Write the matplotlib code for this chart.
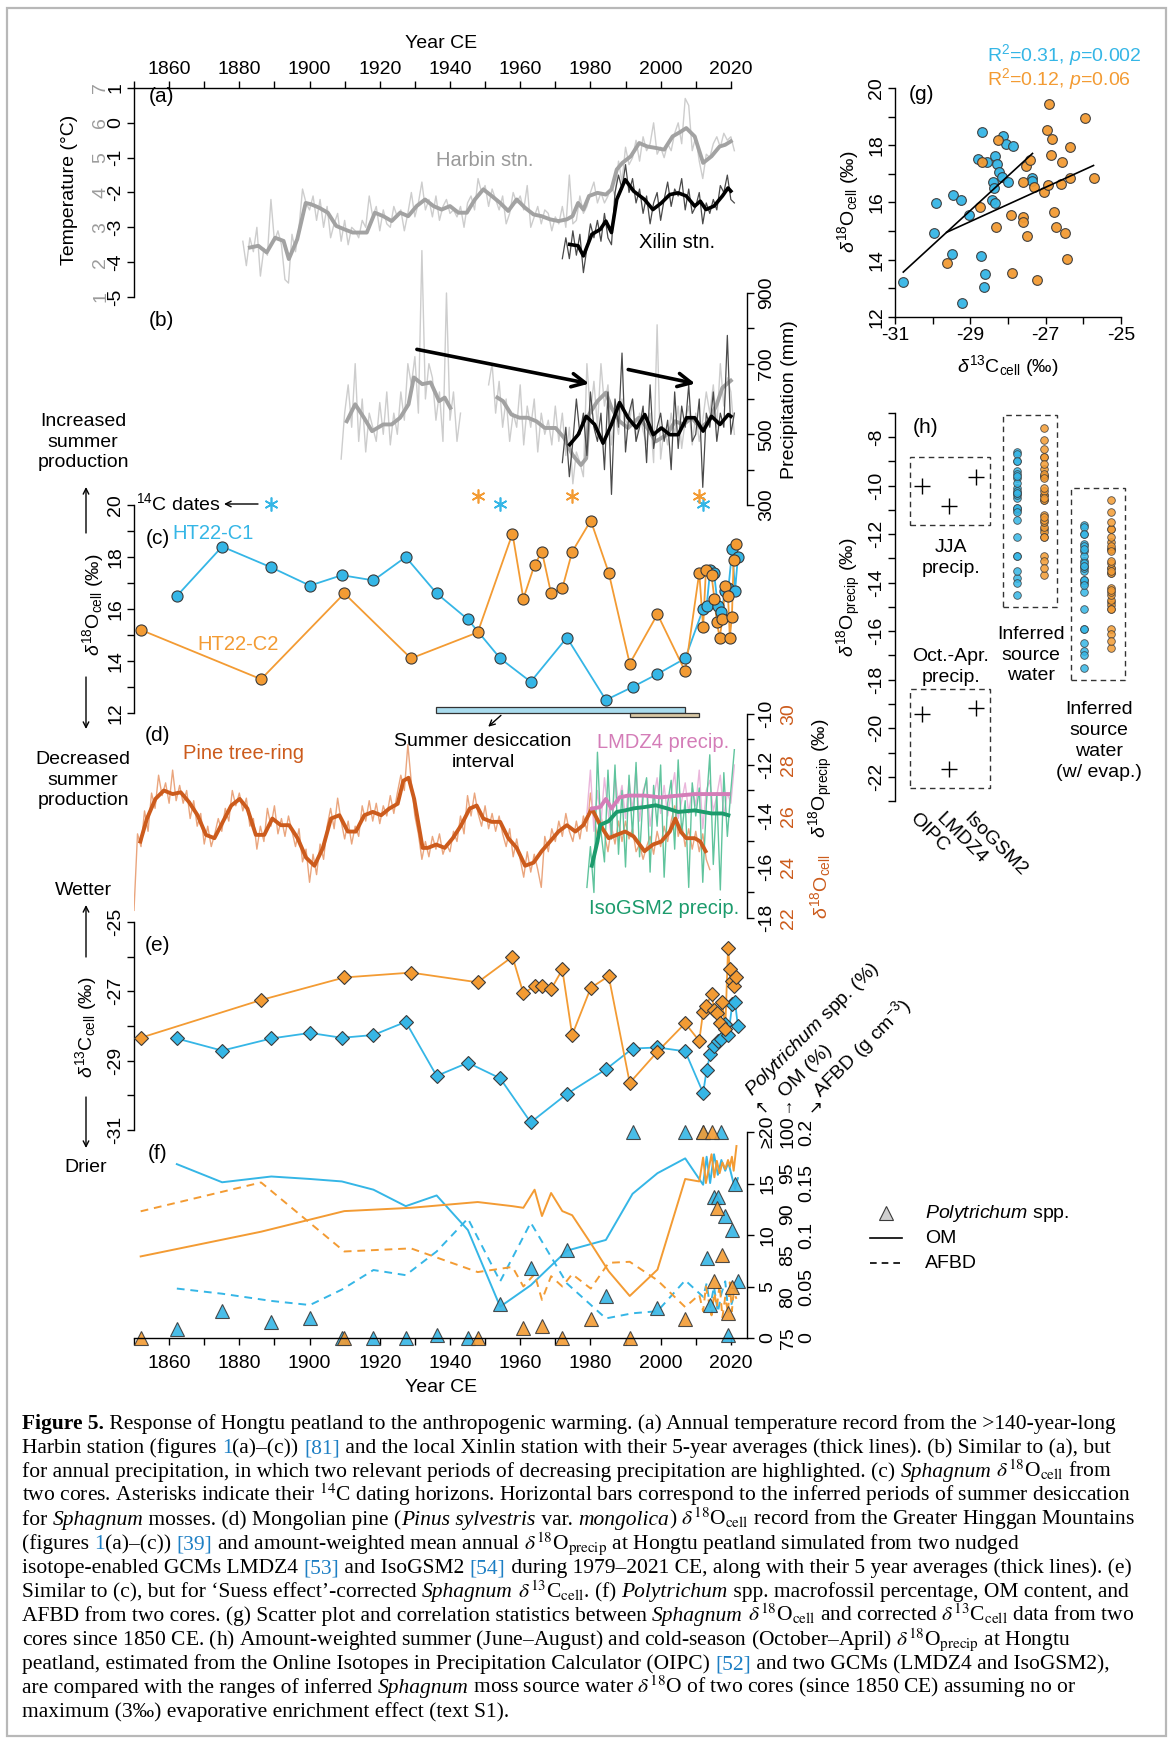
import numpy as np
import matplotlib
matplotlib.use('Agg')
import matplotlib.pyplot as plt
import matplotlib.transforms as mtransforms
from matplotlib.patches import Rectangle

plt.rcParams['font.family'] = ['Liberation Sans', 'DejaVu Sans']
plt.rcParams['mathtext.fontset'] = 'custom'
plt.rcParams['mathtext.rm'] = 'Liberation Sans'
plt.rcParams['mathtext.it'] = 'Liberation Sans:italic'
plt.rcParams['mathtext.bf'] = 'Liberation Sans:bold'

## ---------------- data ----------------
# (a) annual temperature, Harbin (deg C, grey scale 1..7) 1881-2021
harbin_t = [2.6, 1.9, 2.7, 2.3, 3.0, 1.6, 2.4, 2.2, 3.8, 2.6,
            2.9, 2.5, 1.5, 1.4, 2.8, 2.3, 3.0, 4.1, 3.7, 3.5,
            3.9, 3.2, 3.8, 3.0, 3.6, 2.7, 3.1, 3.4, 2.6, 3.2,
            2.5, 3.0, 2.9, 2.7, 3.2, 3.0, 3.9, 3.3, 3.6, 2.9,
            3.5, 3.1, 3.0, 3.6, 3.3, 3.5, 2.9, 3.4, 4.0, 3.3,
            3.7, 4.3, 3.5, 3.8, 3.3, 3.9, 3.2, 3.6, 3.8, 3.4,
            3.5, 3.3, 3.6, 3.0, 3.7, 3.9, 3.5, 4.4, 4.0, 4.2,
            3.6, 4.1, 3.8, 3.5, 3.9, 3.1, 3.4, 4.0, 3.7, 3.9,
            3.5, 4.2, 3.0, 3.3, 3.6, 3.1, 3.5, 3.4, 2.9, 3.3,
            3.1, 3.6, 3.0, 4.5, 3.1, 3.2, 3.9, 3.4, 3.6, 4.0,
            4.3, 3.7, 4.0, 3.7, 3.9, 4.2, 3.9, 4.9, 4.3, 5.3,
            4.8, 5.0, 5.5, 4.9, 5.6, 5.2, 5.4, 6.0, 5.1, 5.3,
            5.0, 5.4, 5.2, 5.7, 6.0, 5.4, 6.7, 6.5, 5.2, 5.6,
            4.9, 4.4, 5.1, 5.0, 5.4, 5.6, 5.3, 5.7, 5.5, 5.6,
            5.2]
harbin_t_years = np.arange(1881, 1881 + len(harbin_t))
harbin_t5_years = [1883, 1885.4, 1887.8, 1890.2, 1892.6, 1894.1, 1896.5, 1898.9, 1900.5, 1902.8,
                   1905.2, 1907.6, 1910, 1912.3, 1916.3, 1918.6, 1921, 1923.4, 1925.8, 1928.1,
                   1930.5, 1932.9, 1935.3, 1937.6, 1940, 1942.4, 1944.8, 1947.1, 1949.5, 1951.9,
                   1954.3, 1956.6, 1959, 1961.4, 1963.8, 1966.1, 1968.5, 1970.9, 1973.3, 1974.9,
                   1976.5, 1978, 1979.6, 1982, 1984.4, 1986, 1987.5, 1989.1, 1991.5, 1993.9,
                   1996.2, 1998.6, 2001, 2003.4, 2005.8, 2007.3, 2009.7, 2012.1, 2014.5, 2016.8,
                   2018.4, 2020]
harbin_t5 = [2.42, 2.47, 2.28, 2.70, 2.61, 2.09, 2.66, 3.70, 3.66, 3.56,
             3.42, 3.04, 2.94, 2.85, 2.85, 3.42, 3.32, 3.18, 3.42, 3.32,
             3.61, 3.80, 3.61, 3.51, 3.61, 3.42, 3.42, 3.80, 4.09, 3.90,
             3.70, 3.47, 3.80, 3.56, 3.37, 3.32, 3.23, 3.18, 3.23, 3.32,
             3.70, 3.51, 3.90, 3.99, 3.94, 4.09, 4.66, 4.85, 5.04, 5.42,
             5.32, 5.28, 5.23, 5.61, 5.75, 5.85, 5.61, 4.85, 5.04, 5.32,
             5.37, 5.47]
# Xilin temperature (deg C) 1972-2021
xilin_t = [-3.9, -3.3, -3.9, -3.1, -3.8, -3.2, -4.3, -3.6, -2.9, -3.3,
           -2.8, -3.4, -2.6, -3.3, -3.5, -2.0, -1.5, -1.9, -1.2, -2.0,
           -1.6, -2.3, -1.9, -2.6, -2.1, -2.9, -2.3, -2.0, -2.8, -2.2,
           -1.7, -2.4, -1.9, -2.1, -1.6, -2.5, -1.9, -2.6, -2.4, -2.0,
           -2.9, -2.3, -2.6, -2.2, -2.5, -1.8, -2.0, -1.5, -2.2, -2.3]
xilin_years = np.arange(1972, 1972 + len(xilin_t))
xilin_t5_years = [1974.1, 1976.5, 1978, 1980.4, 1982.8, 1984.4, 1986, 1987.5, 1989.9, 1992.3,
                  1995.4, 1997.8, 2000.2, 2002.6, 2005, 2007.3, 2009.7, 2011.3, 2012.9, 2015.2,
                  2017.6, 2019.2, 2020]
xilin_t5 = [-3.49, -3.53, -3.82, -3.20, -3.06, -2.82, -3.15, -2.20, -1.63, -1.96,
            -2.20, -2.49, -2.30, -2.06, -2.01, -2.10, -2.39, -2.25, -2.49, -2.39,
            -2.10, -1.87, -1.96]

# (b) annual precipitation (mm); Harbin 1909-2021 with gap 1944-1950
nan = np.nan
harbin_p = [430, 560, 640, 520, 700, 480, 600, 450, 560, 520,
            480, 590, 500, 620, 470, 560, 500, 620, 540, 700,
            640, 720, 560, 1020, 600, 700, 660, 540, 620, 480,
            900, 540, 620, 480, 560,
            nan, nan, nan, nan, nan, nan, nan,
            640, 700, 560, 650, 520, 600, 480, 560, 520, 640,
            470, 580, 520, 600, 450, 560, 500, 540, 470, 580,
            480, 560, 440, 520, 360, 450, 420, 380, 700, 560,
            650, 520, 700, 580, 640, 470, 560, 500, 600, 540,
            520, 600, 480, 560, 510, 470, 560, 420, 810, 430,
            520, 470, 560, 500, 580, 460, 540, 580, 470, 560,
            480, 540, 620, 560, 640, 520, 700, 580, 660, 620,
            500]
harbin_p_years = np.arange(1909, 1909 + len(harbin_p))
harbin_p5_years = [1910.6, 1913, 1915.5, 1917.8, 1921, 1923.4, 1925.8, 1928.2, 1929.7, 1932.1,
                   1934.5, 1936.9, 1938.5, 1940.1, nan, 1953.5, 1955.1, 1957.5, 1959.8, 1962.2,
                   1964.6, 1967, 1970.1, 1972.5, 1974.9, 1977.3, 1978.8, 1979.6, 1982, 1984.4,
                   1986, 1988.3, 1990.7, 1993.8, 1996.2, 1998.6, 2001.8, 2004.1, 2006.5, 2008.9,
                   2011.3, 2013.7, 2016, 2017.6, 2020]
harbin_p5 = [537, 585, 547, 509, 528, 528, 547, 585, 661, 642,
             647, 594, 604, 575, nan, 604, 594, 556, 547, 547,
             537, 518, 518, 490, 442, 413, 432, 556, 594, 618,
             575, 537, 518, 547, 518, 480, 499, 537, 528, 547,
             518, 537, 585, 632, 652]
xilin_p = [420, 520, 380, 480, 600, 500, 560, 440, 620, 520,
           480, 560, 400, 620, 330, 600, 520, 730, 450, 560,
           600, 480, 520, 580, 420, 640, 460, 520, 560, 480,
           540, 400, 620, 460, 580, 520, 640, 480, 500, 600,
           350, 560, 520, 620, 480, 560, 520, 780, 500, 560]
xilin_p5_years = [1974.1, 1976.5, 1978.8, 1981.2, 1983.6, 1986, 1988.3, 1990.7, 1993.1, 1995.5,
                  1997.9, 2000.2, 2002.6, 2005, 2007.4, 2009.7, 2012.1, 2014.5, 2016.9, 2019.3, 2020]
xilin_p5 = [471, 499, 551, 528, 475, 528, 590, 547, 518, 556,
            499, 518, 499, 499, 547, 547, 509, 551, 528, 556, 551]

# (c), (e), (f) core HT22-C1 (blue)
c1_years = [1862.2, 1875.1, 1889.1, 1900.1, 1909.2, 1918.2, 1927.4, 1936.2, 1945.1, 1954.3,
            1963.0, 1973.3, 1984.4, 1992.0, 1999.1, 2007.0, 2012.1, 2013.1, 2014.1, 2015.2,
            2016.3, 2017.3, 2018.4, 2019.3, 2020.4, 2021.2, 2022.0]
c1_d18o = [16.5, 18.4, 17.6, 16.9, 17.3, 17.1, 18.0, 16.6, 15.6, 14.1,
           13.2, 14.9, 12.5, 13.0, 13.5, 14.1, 16.0, 16.1, 17.5, 17.4,
           16.1, 15.9, 16.7, 16.8, 18.3, 16.7, 18.0]
c1_d13c = [-28.36, -28.71, -28.36, -28.20, -28.34, -28.26, -27.88, -29.44, -29.06, -29.51,
           -30.78, -29.96, -29.25, -28.65, -28.62, -28.73, -29.93, -29.28, -28.82, -28.59,
           -28.42, -28.37, -27.94, -28.27, -27.36, -27.31, -28.00]
c1_om = [96.1, 93.9, 94.6, 94.3, 94.0, 93.0, 91.0, 92.3, 88.1, 78.8,
         81.4, 85.6, 86.9, 92.5, 95.0, 96.8, 93.6, 97.0, 93.8, 97.3,
         94.8, 96.6, 95.3, 96.3, 94.4, 93.1, 94.4]
c1_afbd = [0.048, 0.043, 0.036, 0.032, 0.047, 0.066, 0.061, 0.084, 0.116, 0.055,
           0.112, 0.053, 0.019, 0.024, 0.026, 0.056, 0.040, 0.053, 0.030, 0.050,
           0.025, 0.043, 0.055, 0.025, 0.035, 0.048, 0.042]
c1_poly = [0.9, 2.6, 1.6, 1.9, 0, 0, 0, 0.3, 0, 3.3,
           6.8, 8.5, 4.1, 25, 2.9, 25, 25, 7.8, 3.2, 13.7,
           13.7, 25, 11.8, 0.3, 10.5, 15.0, 5.5]
c1_dates = [1889.1, 1954.3, 2012.1]

# core HT22-C2 (orange)
c2_years = [1851.9, 1886.2, 1909.9, 1928.9, 1947.9, 1957.8, 1960.9, 1964.1, 1966.2, 1968.8,
            1972.0, 1974.8, 1980.1, 1985.2, 1991.2, 1999.1, 2007.0, 2011.0, 2012.1, 2012.9,
            2014.5, 2015.3, 2016.0, 2016.8, 2017.6, 2018.4, 2019.2, 2019.7, 2020.3, 2020.8,
            2021.6]
c2_d18o = [15.2, 13.3, 16.6, 14.1, 15.1, 18.9, 16.4, 17.7, 18.2, 16.6,
           16.8, 18.2, 19.4, 17.4, 13.9, 15.8, 13.6, 17.4, 15.3, 17.5,
           17.3, 16.4, 15.5, 14.9, 15.6, 16.9, 16.5, 14.9, 15.7, 17.9,
           18.5]
c2_d13c = [-28.34, -27.25, -26.60, -26.46, -26.74, -26.00, -27.06, -26.85, -26.85, -26.94,
           -26.37, -28.26, -26.90, -26.56, -29.64, -28.74, -27.92, -28.43, -27.59, -27.43,
           -27.09, -27.54, -27.62, -27.92, -27.30, -28.10, -25.75, -26.35, -26.70, -26.86,
           -26.60]
c2_om = [84.9, 87.9, 90.4, 90.8, 91.5, 91.0, 90.8, 93.0, 89.8, 92.6,
         90.4, 89.9, 86.5, 83.1, 80.1, 83.3, 94.3, 94.0, 96.9, 93.8,
         97.3, 94.5, 96.5, 95.0, 96.3, 95.5, 96.6, 95.8, 97.0, 95.3,
         98.3]
c2_afbd = [0.123, 0.151, 0.084, 0.087, 0.064, 0.069, 0.050, 0.062, 0.037, 0.060,
           0.050, 0.062, 0.048, 0.073, 0.074, 0.056, 0.030, 0.042, 0.026, 0.050,
           0.022, 0.044, 0.030, 0.052, 0.020, 0.040, 0.024, 0.054, 0.026, 0.045,
           0.038]
c2_poly = [0, nan, 0, nan, 0, nan, 1.0, nan, 1.2, nan,
           0, nan, 1.8, nan, 0, nan, 1.8, nan, 25, nan,
           25, 5.5, 12.6, nan, 8.1, nan, 2.4, nan, 5.0, nan,
           nan]
c2_dates = [1947.9, 1974.8, 2011.0]
desic_c1 = (1935.9, 2007.0)
desic_c2 = (1991.2, 2010.9)

# (d) pine tree-ring d18O cellulose 1850-2014
pine = [22.3, 25.3, 24.8, 26.2, 25.4, 26.9, 26.3, 27.6, 26.8, 27.3,
        26.5, 27.8, 26.6, 27.2, 26.5, 27.0, 25.9, 26.6, 25.6, 26.1,
        24.9, 25.6, 24.8, 25.3, 25.9, 25.4, 26.3, 25.8, 27.0, 26.4,
        26.9, 26.2, 26.7, 25.6, 25.9, 24.7, 25.6, 25.0, 26.3, 25.6,
        26.4, 25.3, 25.9, 25.2, 26.0, 25.4, 24.8, 25.5, 24.2, 24.7,
        23.4, 24.5, 23.7, 24.9, 24.3, 25.6, 26.3, 25.5, 26.7, 25.8,
        25.1, 25.8, 24.9, 25.6, 25.2, 26.4, 25.8, 26.6, 25.8, 26.5,
        25.7, 26.4, 26.0, 26.8, 26.1, 26.9, 27.6, 27.0, 28.8, 27.3,
        26.0, 25.3, 24.3, 25.0, 24.4, 25.2, 24.7, 25.3, 24.5, 24.9,
        24.6, 25.4, 25.0, 26.0, 25.3, 26.8, 26.0, 26.9, 26.1, 25.6,
        26.4, 25.5, 26.1, 25.4, 26.0, 25.3, 24.8, 25.5, 24.4, 25.1,
        24.3, 23.6, 24.6, 23.8, 24.5, 23.9, 23.2, 25.2, 24.6, 25.5,
        25.0, 25.8, 25.2, 26.1, 25.4, 25.0, 25.8, 25.1, 26.0, 25.4,
        26.9, 25.9, 25.2, 26.0, 25.3, 24.6, 25.6, 24.9, 25.8, 25.0,
        25.8, 25.1, 25.5, 24.6, 24.9, 24.3, 24.8, 25.2, 24.5, 25.4,
        24.8, 25.6, 25.0, 25.8, 26.4, 25.2, 25.7, 24.8, 25.5, 24.7,
        25.4, 24.6, 25.3, 24.3, 23.9]
pine_years = np.arange(1850, 1850 + len(pine))
pine5_years = [1851.8, 1853.7, 1856.1, 1858.5, 1861, 1863.3, 1865.7, 1868.1, 1870.5, 1872.9,
               1875.3, 1877.7, 1880.1, 1882.3, 1884.7, 1887.1, 1889.4, 1891.8, 1894.2, 1896.6,
               1899, 1901.4, 1903.8, 1906.1, 1908.5, 1910.9, 1913.2, 1915.6, 1918, 1920.4,
               1922.7, 1925.1, 1926.7, 1928.2, 1929.8, 1932.2, 1933.7, 1936.1, 1938.5, 1940.8,
               1943.2, 1945.6, 1947.6, 1949.5, 1951.9, 1954.3, 1956.6, 1959, 1961.4, 1963.8,
               1966.1, 1968.5, 1970.9, 1973.3, 1975.7, 1978, 1980.4, 1982.8, 1985.2, 1987.5,
               1989.9, 1992.3, 1995.4, 1997.8, 2000.2, 2002.6, 2004.2, 2005.7, 2007.3, 2009.7,
               2011.3, 2012.8]
pine5 = [25.0, 25.9, 26.67, 27.0, 26.86, 26.93, 26.54, 26.03, 25.26, 25.13,
         25.77, 26.41, 26.67, 26.29, 25.26, 25.26, 25.9, 25.64, 25.64, 25.13,
         24.37, 24.05, 24.75, 25.9, 26.03, 25.39, 25.39, 26.03, 26.16, 26.03,
         26.29, 26.48, 27.38, 27.5, 26.67, 24.75, 24.75, 24.88, 24.75, 25.13,
         25.64, 26.29, 26.41, 25.9, 25.77, 25.77, 25.13, 24.75, 24.05, 24.17,
         24.62, 25.0, 25.39, 25.64, 25.39, 25.64, 26.29, 25.64, 25.13, 25.26,
         25.39, 25.2, 24.62, 24.88, 25.0, 25.39, 25.9, 25.39, 25.13, 25.13,
         25.0, 24.62]
# simulated d18O precip 1979-2021
lmdz = [-13.9, -12.2, -14.6, -13.0, -14.3, -12.5, -13.8, -14.9, -12.4, -13.5,
        -12.8, -14.1, -12.6, -13.8, -12.1, -14.2, -13.0, -12.6, -14.4, -13.3,
        -12.5, -13.9, -12.8, -14.0, -13.1, -12.3, -14.1, -13.4, -12.7, -13.9,
        -12.9, -13.6, -12.2, -14.5, -13.0, -12.6, -13.8, -13.2, -12.4, -14.0,
        -13.1, -13.5, -12.0]
isogsm = [-16.8, -15.2, -17.0, -11.5, -14.6, -15.8, -12.2, -14.9, -12.0, -15.5,
          -13.0, -16.0, -12.4, -14.8, -11.9, -15.6, -13.2, -12.5, -16.2, -12.8,
          -14.4, -12.0, -16.4, -13.5, -12.6, -15.3, -11.8, -14.7, -13.4, -16.8,
          -12.7, -14.0, -12.9, -16.6, -13.6, -11.6, -15.9, -13.1, -16.9, -12.3,
          -14.8, -13.0, -11.4]
gcm_years = np.arange(1979, 1979 + len(lmdz))
lmdz5_years = [1980.4, 1982.8, 1984.4, 1986, 1988.3, 1990.7, 1995.4, 2000, 2005, 2009.7, 2014.5, 2019.3]
lmdz5 = [-13.71, -13.65, -13.33, -13.71, -13.27, -13.2, -13.2, -13.27, -13.2, -13.14, -13.14, -13.14]
iso5_years = [1980.4, 1982, 1982.8, 1985.2, 1987.5, 1989.9, 1992.3, 1995.4, 1998.6, 2001.8,
              2005, 2009.7, 2014.5, 2017.6, 2019.3]
iso5 = [-15.95, -15.0, -14.35, -14.2, -13.84, -13.78, -13.7, -13.65, -13.58, -13.7,
        -13.84, -13.78, -13.9, -13.9, -13.97]

# (g) scatter d13C vs d18O
g_c1_x = [-30.78, -29.96, -29.91, -29.45, -29.26, -29.50, -29.23, -29.03, -28.79, -28.70,
          -28.57, -28.73, -28.61, -28.65, -28.41, -28.37, -28.42, -28.34, -28.35, -28.30,
          -28.23, -28.17, -28.14, -28.04, -27.99, -27.86, -27.37, -27.35]
g_c1_y = [13.23, 14.92, 15.99, 16.26, 16.09, 14.20, 12.49, 15.56, 17.51, 18.45,
          17.40, 14.13, 13.50, 13.05, 16.70, 16.50, 16.09, 15.97, 17.61, 17.35,
          17.08, 16.88, 18.33, 18.05, 16.73, 17.96, 16.85, 16.75]
g_c2_x = [-29.63, -28.74, -28.70, -28.32, -28.27, -27.92, -27.90, -27.61, -27.61, -27.59,
          -27.52, -27.50, -27.42, -27.30, -27.24, -27.04, -26.96, -26.93, -26.90, -26.87,
          -26.84, -26.77, -26.73, -26.59, -26.57, -26.50, -26.44, -26.35, -26.35, -25.96,
          -25.73]
g_c2_y = [13.87, 15.83, 17.40, 15.15, 18.19, 15.56, 13.54, 16.73, 15.48, 15.33,
          17.29, 14.84, 17.47, 16.53, 13.31, 16.37, 18.54, 16.61, 19.45, 17.67,
          18.21, 15.68, 15.15, 16.65, 17.43, 14.94, 14.04, 17.93, 16.85, 18.95,
          16.85]

# (h) precipitation d18O from OIPC / LMDZ4 / IsoGSM2
h_models = ['OIPC', 'LMDZ4', 'IsoGSM2']
h_jja = [-10.0, -10.82, -9.62]
h_octapr = [-19.4, -21.68, -19.17]
cell_offset = 27.0      # source water = d18O_cell - 27
evap_offset = 3.0       # maximum evaporative enrichment

## ---------------- styling ----------------
BLUE = '#35b6e6'
ORANGE = '#f39b33'
GRAY_THICK = '#a2a2a2'
GRAY_THIN = '#cdcdcd'
DARK_THIN = '#4a4a4a'
PINE = '#cc5b1c'
PINE_THIN = '#eaa57d'
PINK = '#d47db8'
PINK_THIN = '#eab6db'
GREEN = '#1c9b6c'
GREEN_THIN = '#60c49d'
EDGE = '#3a3a3a'
FS = 14

W, H = 1173, 1742
fig = plt.figure(figsize=(W / 100, H / 100), dpi=100)
fig.patch.set_facecolor('white')


def add_ax(x0, y0, x1, y1):
    return fig.add_axes([x0 / W, 1 - y1 / H, (x1 - x0) / W, (y1 - y0) / H])


def setup(ax, sides):
    for s in ('left', 'right', 'top', 'bottom'):
        ax.spines[s].set_visible(s in sides)
        ax.spines[s].set_linewidth(1.0)
    ax.patch.set_visible(False)
    ax.tick_params(which='both', direction='out', length=5, width=1, labelsize=FS, pad=2)
    if 'top' not in sides and 'bottom' not in sides:
        ax.tick_params(axis='x', which='both', bottom=False, top=False,
                       labelbottom=False, labeltop=False)
    if 'right' in sides:
        ax.yaxis.tick_right()
        ax.tick_params(axis='y', which='both', pad=3)
    if 'top' in sides:
        ax.xaxis.tick_top()


def set_yt(ax, lo, hi, lab_lo, lab_step, step=1):
    lab = np.arange(lab_lo, hi + 1e-9, lab_step)
    allt = np.arange(lo, hi + 1e-9, step)
    ax.set_yticks(lab, labels=['%g' % v for v in lab])
    ax.set_yticks([t for t in allt if not np.any(np.isclose(t, lab))], minor=True)
    ax.tick_params(axis='y', labelrotation=90)
    plt.setp(ax.get_yticklabels(), va='center')


def set_years(ax):
    ax.set_xlim(1850, 2024.6)
    ax.set_xticks(np.arange(1860, 2021, 20), labels=[str(y) for y in range(1860, 2021, 20)])
    ax.set_xticks(np.arange(1850, 2021, 20), minor=True)


X0, X1 = 134, 747
XLIM = (1850, 2024.6)

# ---- (a) temperature
ax_a = add_ax(X0, 88, X1, 297)
setup(ax_a, ('left', 'top'))
set_years(ax_a)
ax_a.tick_params(axis='x', which='both', pad=2)
ax_a.spines['top'].set_bounds(1850, 2020)
ax_a.set_ylim(-5, 1)
set_yt(ax_a, -5, 1, -5, 1)
ax_a.plot(harbin_t_years, np.array(harbin_t) - 6, color=GRAY_THIN, lw=1.0)
ax_a.plot(harbin_t5_years, np.array(harbin_t5) - 6, color=GRAY_THICK, lw=2.8)
ax_a.plot(xilin_years, xilin_t, color=DARK_THIN, lw=0.9)
ax_a.plot(xilin_t5_years, xilin_t5, color='black', lw=2.6)
blend_a = mtransforms.blended_transform_factory(ax_a.transAxes, ax_a.transData)
for v in range(-5, 2):
    ax_a.text((101 - X0) / (X1 - X0), v, str(v + 6), transform=blend_a, rotation=90,
              ha='center', va='center', fontsize=FS, color='#9c9c9c')

# ---- (b) precipitation
ax_b = add_ax(X0, 293, X1, 505)
setup(ax_b, ('right',))
ax_b.set_xlim(XLIM)
ax_b.set_ylim(300, 900)
set_yt(ax_b, 300, 900, 300, 200, step=100)
ax_b.plot(harbin_p_years, harbin_p, color=GRAY_THIN, lw=1.0, clip_on=False)
ax_b.plot(harbin_p5_years, harbin_p5, color=GRAY_THICK, lw=2.8)
ax_b.plot(xilin_years, xilin_p, color=DARK_THIN, lw=0.9, clip_on=False)
ax_b.plot(xilin_p5_years, xilin_p5, color='black', lw=2.6)
for (xa, ya), (xb, yb) in [((1929.8, 742), (1980.4, 642)), ((1990.0, 685), (2010.6, 642))]:
    ax_b.annotate('', xy=(xb, yb), xytext=(xa, ya),
                  arrowprops=dict(arrowstyle='->', lw=2.6, color='black', mutation_scale=24))

# ---- (c) d18O cellulose
ax_c = add_ax(X0, 505, X1, 713)
setup(ax_c, ('left',))
ax_c.set_xlim(XLIM)
ax_c.set_ylim(12, 20)
set_yt(ax_c, 12, 20, 12, 2)
ax_c.plot(c1_years, c1_d18o, color=BLUE, lw=1.3, zorder=2)
ax_c.plot(c2_years, c2_d18o, color=ORANGE, lw=1.3, zorder=2)
ax_c.plot(c1_years, c1_d18o, 'o', ms=8, mfc=BLUE, mec=EDGE, mew=0.8, zorder=3)
ax_c.plot(c2_years, c2_d18o, 'o', ms=8, mfc=ORANGE, mec=EDGE, mew=0.8, zorder=3)
ax_c.plot(c1_dates, [20.05] * len(c1_dates), ls='none', marker=(6, 2, 0), ms=10,
          mec=BLUE, mew=1.2, clip_on=False)
ax_c.plot(c2_dates, [20.35] * len(c2_dates), ls='none', marker=(6, 2, 0), ms=10,
          mec=ORANGE, mew=1.2, clip_on=False)
ax_c.add_patch(Rectangle((desic_c1[0], 12.0), desic_c1[1] - desic_c1[0], 0.24,
                         fc='#a9dcee', ec='#333333', lw=0.9, clip_on=False, zorder=4))
ax_c.add_patch(Rectangle((desic_c2[0], 11.84), desic_c2[1] - desic_c2[0], 0.16,
                         fc='#dac9a6', ec='#333333', lw=0.9, clip_on=False, zorder=4))
ax_c.annotate('', xy=(1950.3, 11.4), xytext=(1955.1, 11.98), annotation_clip=False,
              arrowprops=dict(arrowstyle='->', lw=1.0, color='black'))

# ---- (d) tree-ring and simulated precipitation
ax_d = add_ax(X0, 714, X1, 918)
setup(ax_d, ('right',))
ax_d.set_xlim(XLIM)
ax_d.set_ylim(-18, -10)
set_yt(ax_d, -18, -10, -18, 2)
ax_d.plot(pine_years, np.array(pine) - 40, color=PINE_THIN, lw=1.0)
ax_d.plot(gcm_years, lmdz, color=PINK_THIN, lw=1.0)
ax_d.plot(gcm_years, isogsm, color=GREEN_THIN, lw=1.0)
ax_d.plot(pine5_years, np.array(pine5) - 40, color=PINE, lw=2.8)
ax_d.plot(lmdz5_years, lmdz5, color=PINK, lw=2.8)
ax_d.plot(iso5_years, iso5, color=GREEN, lw=2.8)
blend_d = mtransforms.blended_transform_factory(ax_d.transAxes, ax_d.transData)
for v in range(-18, -9, 2):
    ax_d.text((789 - X0) / (X1 - X0), v, str(v + 40), transform=blend_d, rotation=90,
              ha='center', va='center', fontsize=FS, color=PINE)

# ---- (e) d13C cellulose
ax_e = add_ax(X0, 922, X1, 1130)
setup(ax_e, ('left',))
ax_e.set_xlim(XLIM)
ax_e.set_ylim(-31, -25)
set_yt(ax_e, -31, -25, -31, 2)
ax_e.plot(c1_years, c1_d13c, color=BLUE, lw=1.3, zorder=2)
ax_e.plot(c2_years, c2_d13c, color=ORANGE, lw=1.3, zorder=2)
ax_e.plot(c1_years, c1_d13c, 'D', ms=7, mfc=BLUE, mec=EDGE, mew=0.8, zorder=3, clip_on=False)
ax_e.plot(c2_years, c2_d13c, 'D', ms=7, mfc=ORANGE, mec=EDGE, mew=0.8, zorder=3, clip_on=False)

# ---- (f) Polytrichum, OM, AFBD
ax_f = add_ax(X0, 1132, X1, 1338)
setup(ax_f, ('right', 'bottom'))
set_years(ax_f)
ax_f.tick_params(axis='x', which='both', pad=7)
ax_f.set_ylim(0, 20)
ax_f.set_yticks([0, 5, 10, 15, 20])
ax_f.tick_params(axis='y', labelright=False, labelleft=False)
om_y = lambda om: (np.array(om) - 75) * 0.8
afbd_y = lambda a: np.array(a) * 100
ax_f.plot(c1_years, om_y(c1_om), color=BLUE, lw=1.4)
ax_f.plot(c2_years, om_y(c2_om), color=ORANGE, lw=1.4)
ax_f.plot(c1_years, afbd_y(c1_afbd), color=BLUE, lw=1.4, ls=(0, (4, 3)))
ax_f.plot(c2_years, afbd_y(c2_afbd), color=ORANGE, lw=1.4, ls=(0, (4, 3)))
ax_f.plot(c1_years, np.minimum(c1_poly, 20), '^', ms=10, mfc=BLUE, mec=EDGE, mew=0.8,
          alpha=0.9, clip_on=False)
ax_f.plot(c2_years, np.minimum(c2_poly, 20), '^', ms=10, mfc=ORANGE, mec=EDGE, mew=0.8,
          alpha=0.9, clip_on=False)
blend_f = mtransforms.blended_transform_factory(ax_f.transAxes, ax_f.transData)
fx = lambda px: (px - X0) / (X1 - X0)
for v, s in zip([0, 5, 10, 15, 20], ['0', '5', '10', '15', '≥20']):
    ax_f.text(fx(768), v, s, transform=blend_f, rotation=90, ha='center', va='center', fontsize=FS)
for om in range(75, 101, 5):
    ax_f.text(fx(788), (om - 75) * 0.8, str(om), transform=blend_f, rotation=90,
              ha='center', va='center', fontsize=FS)
for a, s in zip([0, 0.05, 0.1, 0.15, 0.2], ['0', '0.05', '0.1', '0.15', '0.2']):
    ax_f.text(fx(807), a * 100, s, transform=blend_f, rotation=90, ha='center', va='center', fontsize=FS)

# ---- (g) scatter
ax_g = add_ax(895, 88, 1121, 317)
setup(ax_g, ('left', 'bottom'))
ax_g.set_xlim(-31, -25)
ax_g.set_ylim(12, 20)
ax_g.set_xticks([-31, -29, -27, -25], labels=['-31', '-29', '-27', '-25'])
ax_g.set_xticks([-30, -28, -26], minor=True)
set_yt(ax_g, 12, 20, 12, 2)
ax_g.plot(g_c1_x, g_c1_y, 'o', ms=7, mfc=BLUE, mec=EDGE, mew=0.8, alpha=0.95)
ax_g.plot(g_c2_x, g_c2_y, 'o', ms=7, mfc=ORANGE, mec=EDGE, mew=0.8, alpha=0.95)
for gx, gy in [(g_c1_x, g_c1_y), (g_c2_x, g_c2_y)]:
    k, b = np.polyfit(gx, gy, 1)
    xs = np.array([min(gx), max(gx)])
    ax_g.plot(xs, k * xs + b, color='black', lw=1.2)

# ---- (h) source water
ax_h = add_ax(895, 413, 1152, 801)
setup(ax_h, ('left',))
ax_h.set_xlim(0, 9.5)
ax_h.set_ylim(-23, -7)
set_yt(ax_h, -23, -7, -22, 2)
xm = np.array([1, 2, 3])
ax_h.plot(xm, h_jja, 'k+', ms=11, mew=1.0)
ax_h.plot(xm, h_octapr, 'k+', ms=11, mew=1.0)
src1 = np.array(c1_d18o) - cell_offset
src2 = np.array(c2_d18o) - cell_offset
cols = [(4.5, src1, BLUE), (5.5, src2, ORANGE),
        (7.0, src1 - evap_offset, BLUE), (8.0, src2 - evap_offset, ORANGE)]
for xp, vals, c in cols:
    ax_h.plot([xp] * len(vals), vals, 'o', ms=5.5, mfc=c, mec=EDGE, mew=0.6, alpha=0.85)
boxes = [(0.55, 3.5, h_jja, 0.8), (0.55, 3.5, h_octapr, 0.8),
         (4.0, 6.0, np.r_[src1, src2], 0.5), (6.5, 8.5, np.r_[src1, src2] - evap_offset, 0.5)]
for bx0, bx1, vals, m in boxes:
    y0, y1 = np.min(vals) - m, np.max(vals) + m
    ax_h.add_patch(Rectangle((bx0, y0), bx1 - bx0, y1 - y0, fill=False, ec='#333333',
                             lw=1.0, ls=(0, (4, 3)), clip_on=False))
for xp, name in zip(xm, h_models):
    ax_h.text(xp - 0.15, -23.35, name, rotation=-45, rotation_mode='anchor',
              ha='left', va='top', fontsize=FS)

## ---------------- free text (pixel coordinates) ----------------
pax = fig.add_axes([0, 0, 1, 1], zorder=10)
pax.set_xlim(0, W)
pax.set_ylim(H, 0)
pax.axis('off')


def T(x, y, s, **kw):
    kw.setdefault('fontsize', FS)
    kw.setdefault('ha', 'center')
    kw.setdefault('va', 'center')
    return pax.text(x, y, s, **kw)


def arrow(x0, y0, x1, y1, lw=1.0):
    pax.annotate('', xy=(x1, y1), xytext=(x0, y0),
                 arrowprops=dict(arrowstyle='->', lw=lw, color='black', shrinkA=0, shrinkB=0))


pax.add_patch(Rectangle((7, 8), 1159, 1728, fill=False, ec='#b8b8b8', lw=1.6))

T(441, 43, 'Year CE')
T(441, 1387, 'Year CE')
T(70, 190, 'Temperature (°C)', rotation=90)
T(790, 400, 'Precipitation (mm)', rotation=90)
T(93, 605, r'$\delta^{18}$O$_{\rm cell}$ (‰)', rotation=90)
T(86, 1027, r'$\delta^{13}$C$_{\rm cell}$ (‰)', rotation=90)
for lab, (x, y) in zip(['(a)', '(b)', '(c)', '(d)', '(e)', '(f)'],
                       [(161, 97), (161, 320), (158, 538), (158, 735), (158, 945), (158, 1153)]):
    T(x, y, lab, fontsize=15)

T(83, 442, 'Increased\nsummer\nproduction', linespacing=1.25)
T(83, 780, 'Decreased\nsummer\nproduction', linespacing=1.25)
arrow(86, 533, 86, 487)
arrow(86, 677, 86, 729)
T(83, 890, 'Wetter')
arrow(86, 957, 86, 905)
T(86, 1167, 'Drier')
arrow(86, 1097, 86, 1148)

T(178, 503, r'$^{14}$C dates')
arrow(258, 504, 224, 504)
T(172, 533, 'HT22-C1', ha='left', color=BLUE, fontsize=14.5)
T(197, 644, 'HT22-C2', ha='left', color=ORANGE, fontsize=14.5)
T(436, 160, 'Harbin stn.', ha='left', color='#9a9a9a', fontsize=14.5)
T(639, 243, 'Xilin stn.', ha='left', fontsize=14.5)
T(483, 752, 'Summer desiccation\ninterval', linespacing=1.25)
T(183, 753, 'Pine tree-ring', ha='left', color=PINE, fontsize=14.5)
T(597, 742, 'LMDZ4 precip.', ha='left', color=PINK, fontsize=14.5)
T(589, 908, 'IsoGSM2 precip.', ha='left', color=GREEN, fontsize=14.5)
T(821, 778, r'$\delta^{18}$O$_{\rm precip}$ (‰)', rotation=90)
T(821, 887, r'$\delta^{18}$O$_{\rm cell}$', rotation=90, color=PINE)

# (f) rotated axis titles
pax.text(752, 1097, r'$\mathit{Polytrichum}$ spp. (%)', rotation=45, rotation_mode='anchor',
         ha='left', va='baseline', fontsize=FS)
pax.text(785, 1098, 'OM (%)', rotation=45, rotation_mode='anchor', ha='left', va='baseline', fontsize=FS)
pax.text(820, 1098, r'AFBD (g cm$^{-3}$)', rotation=45, rotation_mode='anchor', ha='left',
         va='baseline', fontsize=FS)
T(762, 1108, '↖', fontsize=12)
T(789, 1108, '↑', fontsize=12)
T(816, 1108, '↗', fontsize=12)

# (f) legend
pax.plot([886], [1213], '^', ms=10, mfc='#cfcfcf', mec=EDGE, mew=0.8)
T(925, 1213, r'$\mathit{Polytrichum}$ spp.', ha='left')
pax.plot([870, 902], [1238, 1238], color='black', lw=1.2)
T(925, 1238, 'OM', ha='left')
pax.plot([870, 902], [1263, 1263], color='black', lw=1.2, ls=(0, (4, 3)))
T(925, 1263, 'AFBD', ha='left')

# (g) labels
T(922, 95, '(g)', fontsize=15)
T(987, 55, r'R$^2$=0.31, $\mathit{p}$=0.002', ha='left', color=BLUE, fontsize=14)
T(987, 79, r'R$^2$=0.12, $\mathit{p}$=0.06', ha='left', color=ORANGE, fontsize=14)
T(848, 202, r'$\delta^{18}$O$_{\rm cell}$ (‰)', rotation=90)
T(1008, 366, r'$\delta^{13}$C$_{\rm cell}$ (‰)')

# (h) labels
T(926, 427, '(h)', fontsize=15)
T(849, 597, r'$\delta^{18}$O$_{\rm precip}$ (‰)', rotation=90)
T(951, 558, 'JJA\nprecip.', linespacing=1.3)
T(951, 667, 'Oct.-Apr.\nprecip.', linespacing=1.3)
T(1031, 655, 'Inferred\nsource\nwater', linespacing=1.3)
T(1099, 741, 'Inferred\nsource\nwater\n(w/ evap.)', linespacing=1.3)

## ---------------- caption ----------------
renderer = fig.canvas.get_renderer()
STY = {'n': {}, 'b': {'fontweight': 'bold'}, 'i': {'fontstyle': 'italic'},
       'c': {'color': '#1d7fc4'}}


def cap_kw(fs, k):
    return dict(fontsize=fs, family='Liberation Serif', math_fontfamily='stix',
                ha='left', va='baseline', **STY[k])


def seg_w(s, kw):
    a = pax.text(0, 0, '|' + s + '|', **kw)
    b = pax.text(0, 0, '||', **kw)
    w = a.get_window_extent(renderer).width - b.get_window_extent(renderer).width
    a.remove()
    b.remove()
    return w


D18C = r'$\delta^{18}$O$_{\rm cell}$'
D18P = r'$\delta^{18}$O$_{\rm precip}$'
D13C = r'$\delta^{13}$C$_{\rm cell}$'
caption = [
    [('Figure 5.', 'b'), (' Response of Hongtu peatland to the anthropogenic warming. (a) Annual temperature record from the >140-year-long', 'n')],
    [('Harbin station (figures ', 'n'), ('1', 'c'), ('(a)–(c)) ', 'n'), ('[81]', 'c'),
     (' and the local Xinlin station with their 5-year averages (thick lines). (b) Similar to (a), but', 'n')],
    [('for annual precipitation, in which two relevant periods of decreasing precipitation are highlighted. (c) ', 'n'),
     ('Sphagnum', 'i'), (' ' + D18C + ' from', 'n')],
    [(r'two cores. Asterisks indicate their $^{14}$C dating horizons. Horizontal bars correspond to the inferred periods of summer desiccation', 'n')],
    [('for ', 'n'), ('Sphagnum', 'i'), (' mosses. (d) Mongolian pine (', 'n'), ('Pinus sylvestris', 'i'),
     (' var. ', 'n'), ('mongolica', 'i'), (') ' + D18C + ' record from the Greater Hinggan Mountains', 'n')],
    [('(figures ', 'n'), ('1', 'c'), ('(a)–(c)) ', 'n'), ('[39]', 'c'),
     (' and amount-weighted mean annual ' + D18P + ' at Hongtu peatland simulated from two nudged', 'n')],
    [('isotope-enabled GCMs LMDZ4 ', 'n'), ('[53]', 'c'), (' and IsoGSM2 ', 'n'), ('[54]', 'c'),
     (' during 1979–2021 CE, along with their 5 year averages (thick lines). (e)', 'n')],
    [('Similar to (c), but for ‘Suess effect’-corrected ', 'n'), ('Sphagnum', 'i'), (' ' + D13C + '. (f) ', 'n'),
     ('Polytrichum', 'i'), (' spp. macrofossil percentage, OM content, and', 'n')],
    [('AFBD from two cores. (g) Scatter plot and correlation statistics between ', 'n'), ('Sphagnum', 'i'),
     (' ' + D18C + ' and corrected ' + D13C + ' data from two', 'n')],
    [('cores since 1850 CE. (h) Amount-weighted summer (June–August) and cold-season (October–April) ' + D18P + ' at Hongtu', 'n')],
    [('peatland, estimated from the Online Isotopes in Precipitation Calculator (OIPC) ', 'n'), ('[52]', 'c'),
     (' and two GCMs (LMDZ4 and IsoGSM2),', 'n')],
    [('are compared with the ranges of inferred ', 'n'), ('Sphagnum', 'i'),
     (' moss source water $\\delta^{18}$O of two cores (since 1850 CE) assuming no or', 'n')],
    [('maximum (3‰) evaporative enrichment effect (text S1).', 'n')],
]
# choose the caption size so that the longest line spans the text block (22 .. 1136 px)
base = 14.0
widest = max(sum(seg_w(s, cap_kw(base, k)) for s, k in line) for line in caption)
cap_fs = base * (1136 - 22) / widest
for i, line in enumerate(caption):
    x = 22
    y = 1429 + 24 * i
    for s, k in line:
        kw = cap_kw(cap_fs, k)
        pax.text(x, y, s, **kw)
        x += seg_w(s, kw)

fig.savefig('out.png', dpi=100, facecolor='white')
